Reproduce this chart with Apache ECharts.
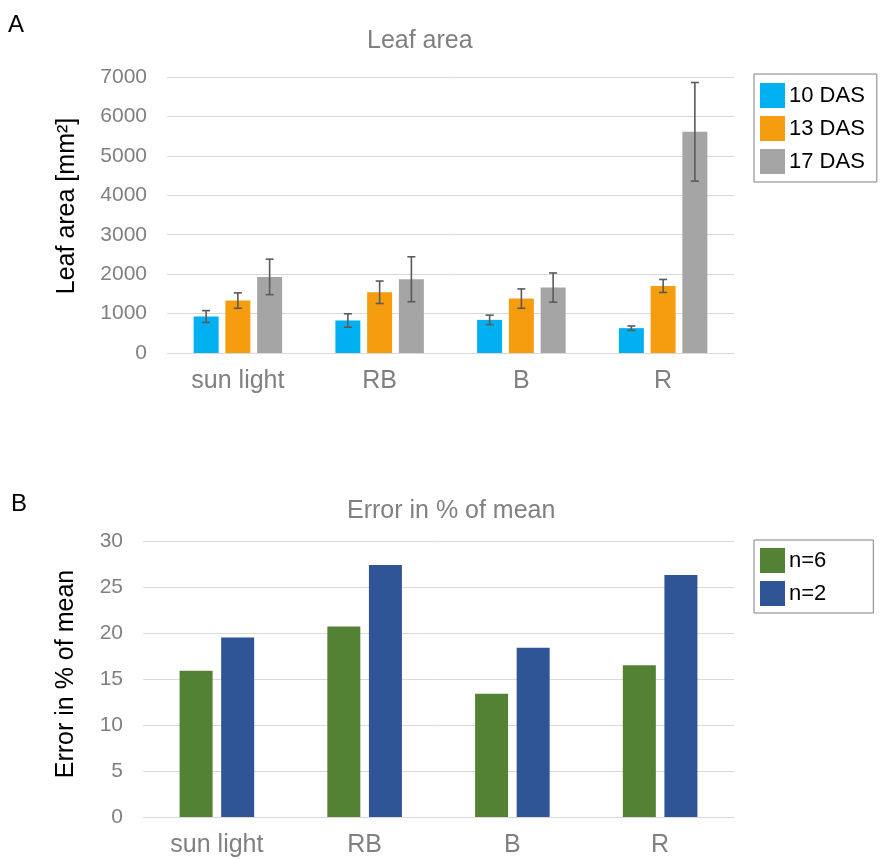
<!DOCTYPE html>
<html>
<head>
<meta charset="utf-8">
<script src="https://cdn.jsdelivr.net/npm/echarts@6/dist/echarts.min.js"></script>
<style>
html,body{margin:0;padding:0;background:#fff;}
#c{width:881px;height:859px;}
</style>
</head>
<body>
<div id="c"></div>
<script>
// ---- data ----
const categories = ['sun light', 'RB', 'B', 'R'];
const das10 = [925, 825, 840, 630];
const das10Err = [150, 170, 120, 55];
const das13 = [1330, 1540, 1380, 1700];
const das13Err = [195, 285, 245, 165];
const das17 = [1930, 1870, 1660, 5610];
const das17Err = [450, 570, 370, 1250];
const n6 = [15.9, 20.7, 13.4, 16.5];
const n2 = [19.5, 27.4, 18.4, 26.3];
const topTicks = { min: 0, max: 7000, interval: 1000 };
const botTicks = { min: 0, max: 30, interval: 5 };

// ---- style ----
const FONT = '"Liberation Sans", Arial, sans-serif';
const GRAY_TXT = '#808080';
const GRID_LINE = '#d9d9d9';
const TOP_BAR_W = 25, TOP_BAR_GAP = 0.27;
const BOT_BAR_W = 33, BOT_BAR_GAP = 0.26;

const chart = echarts.init(document.getElementById('c'), null, { renderer: 'canvas' });

function errSeries(name, means, errs, idxOffset) {
  return {
    type: 'custom',
    name: name + ' err',
    xAxisIndex: 0, yAxisIndex: 0,
    z: 5,
    data: means.map((m, i) => [i, m, errs[i]]),
    renderItem: function (params, api) {
      const i = api.value(0), m = api.value(1), e = api.value(2);
      const hi = api.coord([i, m + e]);
      const lo = api.coord([i, m - e]);
      const dx = idxOffset * TOP_BAR_W * (1 + TOP_BAR_GAP);
      const x = hi[0] + dx;
      const cap = 4;
      const st = { stroke: '#5a5a5a', lineWidth: 1.6 };
      return {
        type: 'group',
        children: [
          { type: 'line', shape: { x1: x, y1: hi[1], x2: x, y2: lo[1] }, style: st },
          { type: 'line', shape: { x1: x - cap, y1: hi[1], x2: x + cap, y2: hi[1] }, style: st },
          { type: 'line', shape: { x1: x - cap, y1: lo[1], x2: x + cap, y2: lo[1] }, style: st }
        ]
      };
    }
  };
}

function catAxis(gridIndex) {
  return {
    type: 'category', gridIndex: gridIndex, data: categories,
    axisLine: { show: true, lineStyle: { color: GRID_LINE, width: 1 } },
    axisTick: { show: false },
    axisLabel: { color: GRAY_TXT, fontFamily: FONT, fontSize: 25, margin: 16 },
    splitLine: { show: false }
  };
}
function valAxis(gridIndex, t, margin) {
  return {
    type: 'value', gridIndex: gridIndex, min: t.min, max: t.max, interval: t.interval,
    axisLine: { show: false }, axisTick: { show: false },
    axisLabel: { color: GRAY_TXT, fontFamily: FONT, fontSize: 21, margin: margin,
      formatter: function (v) { return String(v); } },
    splitLine: { show: true, lineStyle: { color: GRID_LINE, width: 1 } }
  };
}

const legendBase = {
  orient: 'vertical',
  icon: 'rect',
  itemWidth: 25, itemHeight: 25, itemGap: 8,
  borderColor: '#7f7f7f', borderWidth: 1, borderRadius: 0,
  textStyle: { color: '#000', fontFamily: FONT, fontSize: 22, padding: [0, 0, 0, -1] },
  selectedMode: false
};

const option = {
  animation: false,
  backgroundColor: '#fff',
  title: [
    { text: 'Leaf area', left: 367, top: 29, textStyle: { color: GRAY_TXT, fontFamily: FONT, fontSize: 25, fontWeight: 'normal' }, padding: 0 },
    { text: 'Error in % of mean', left: 347, top: 499, textStyle: { color: GRAY_TXT, fontFamily: FONT, fontSize: 25, fontWeight: 'normal' }, padding: 0 }
  ],
  legend: [
    Object.assign({}, legendBase, { data: ['10 DAS', '13 DAS', '17 DAS'], left: 754, top: 74, padding: [9, 12, 8, 6] }),
    Object.assign({}, legendBase, { data: ['n=6', 'n=2'], left: 754, top: 540, padding: [8, 47, 7, 6] })
  ],
  grid: [
    { left: 167, right: 147, top: 77, bottom: 859 - 353 },
    { left: 143, right: 147, top: 541, bottom: 859 - 817 }
  ],
  xAxis: [catAxis(0), catAxis(1)],
  yAxis: [valAxis(0, topTicks, 20), valAxis(1, botTicks, 20)],
  graphic: [
    { type: 'text', left: 8, top: 13, style: { text: 'A', font: '24px ' + FONT, fill: '#000' } },
    { type: 'text', left: 11, top: 492, style: { text: 'B', font: '24px ' + FONT, fill: '#000' } },
    { type: 'text', x: 67, y: 206, rotation: Math.PI / 2,
      style: { text: 'Leaf area [mm²]', font: '25px ' + FONT, fill: '#000', align: 'center', verticalAlign: 'middle' } },
    { type: 'text', x: 66, y: 674, rotation: Math.PI / 2,
      style: { text: 'Error in % of mean', font: '25px ' + FONT, fill: '#000', align: 'center', verticalAlign: 'middle' } }
  ],
  series: [
    { type: 'bar', name: '10 DAS', xAxisIndex: 0, yAxisIndex: 0, data: das10, barWidth: TOP_BAR_W, barGap: (TOP_BAR_GAP * 100) + '%', itemStyle: { color: '#00B0F0' } },
    { type: 'bar', name: '13 DAS', xAxisIndex: 0, yAxisIndex: 0, data: das13, barWidth: TOP_BAR_W, barGap: (TOP_BAR_GAP * 100) + '%', itemStyle: { color: '#F59D0F' } },
    { type: 'bar', name: '17 DAS', xAxisIndex: 0, yAxisIndex: 0, data: das17, barWidth: TOP_BAR_W, barGap: (TOP_BAR_GAP * 100) + '%', itemStyle: { color: '#A5A5A5' } },
    errSeries('10 DAS', das10, das10Err, -1),
    errSeries('13 DAS', das13, das13Err, 0),
    errSeries('17 DAS', das17, das17Err, 1),
    { type: 'bar', name: 'n=6', xAxisIndex: 1, yAxisIndex: 1, data: n6, barWidth: BOT_BAR_W, barGap: (BOT_BAR_GAP * 100) + '%', itemStyle: { color: '#548235' } },
    { type: 'bar', name: 'n=2', xAxisIndex: 1, yAxisIndex: 1, data: n2, barWidth: BOT_BAR_W, barGap: (BOT_BAR_GAP * 100) + '%', itemStyle: { color: '#2F5597' } }
  ]
};
chart.setOption(option);
</script>
</body>
</html>
